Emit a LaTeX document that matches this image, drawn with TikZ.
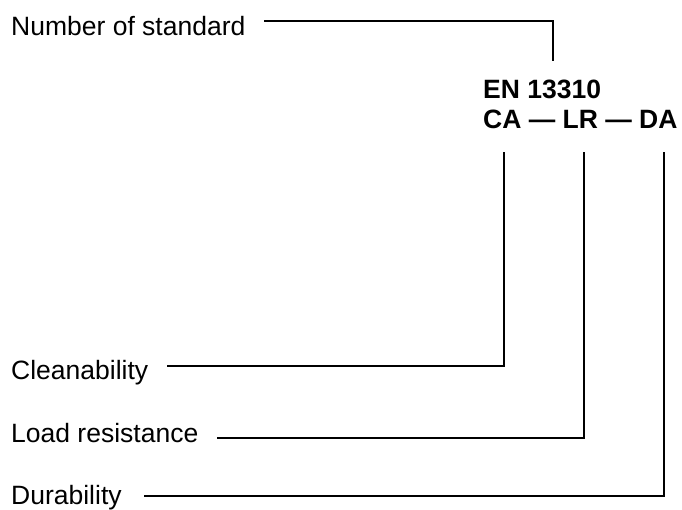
\documentclass[tikz,border=0pt]{standalone}
\usepackage{fontspec}
\setmainfont{Liberation Sans}
\begin{document}
\begin{tikzpicture}[x=1pt,y=-1pt,
  lbl/.style={anchor=base west,inner sep=0pt,font=\fontsize{26.5}{30}\selectfont},
  code/.style={anchor=base west,inner sep=0pt,align=left,font=\fontsize{26.5}{30}\selectfont\bfseries},
  wire/.style={line width=1.6pt,line cap=rect}]
\useasboundingbox (0,0) rectangle (682,509);
\node[lbl] (num) at (11,35) {Number of standard};
\node[lbl] (cl) at (11,379) {Cleanability};
\node[lbl] (lr) at (11,442) {Load resistance};
\node[lbl] (du) at (11,504) {Durability};
\node[code] (en) at (483,128) {EN 13310\\CA — LR — DA};
\coordinate (numS) at (265,21);
\coordinate (numT) at (553,60);
\coordinate (caT) at (504,153);
\coordinate (lrT) at (584,153);
\coordinate (daT) at (664,153);
\coordinate (clS) at (168,366);
\coordinate (lrS) at (218,438);
\coordinate (duS) at (145,496);
\draw[wire] (numS) -| (numT);
\draw[wire] (clS) -| (caT);
\draw[wire] (lrS) -| (lrT);
\draw[wire] (duS) -| (daT);
\end{tikzpicture}
\end{document}
